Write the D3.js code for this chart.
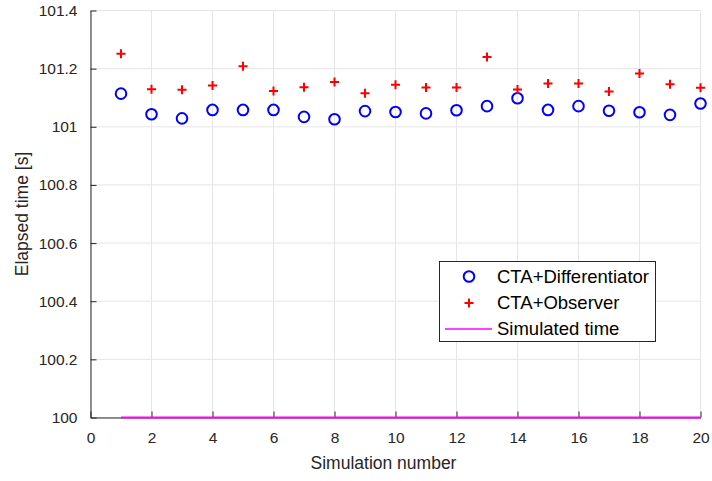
<!DOCTYPE html>
<html><head><meta charset="utf-8">
<script src="https://cdn.jsdelivr.net/npm/d3@7"></script>
<style>body{margin:0;background:#fff}svg{display:block;font-family:"Liberation Sans",Arial,sans-serif}</style>
</head><body><svg id="c" width="712" height="481"></svg>
<script>
const simNumbers = d3.range(1, 21);
const differentiator = [101.114,101.043,101.029,101.058,101.058,101.058,101.034,101.026,101.054,101.051,101.046,101.057,101.071,101.098,101.058,101.071,101.055,101.050,101.041,101.080];
const observer = [101.251,101.129,101.127,101.142,101.208,101.123,101.136,101.154,101.115,101.145,101.135,101.135,101.240,101.128,101.149,101.149,101.121,101.183,101.146,101.134];
const simulated = simNumbers.map(() => 100);
const xTicks = d3.range(0, 21, 2);
const yTicks = [100,100.2,100.4,100.6,100.8,101,101.2,101.4];
const legendLabels = ["CTA+Differentiator","CTA+Observer","Simulated time"];

const svg = d3.select("#c");
const L = 90.5, R = 700.5, T = 10.5, B = 417.5;
const x = d3.scaleLinear().domain([0,20]).range([L,R]);
const y = d3.scaleLinear().domain([100,101.4]).range([B,T]);

// grid
const g = svg.append("g");
g.selectAll(".gx").data(xTicks).join("line")
  .attr("x1",d=>x(d)).attr("x2",d=>x(d)).attr("y1",T).attr("y2",B)
  .attr("stroke","#e6e6e6").attr("stroke-width",1);
g.selectAll(".gy").data(yTicks).join("line")
  .attr("x1",L).attr("x2",R).attr("y1",d=>y(d)).attr("y2",d=>y(d))
  .attr("stroke","#e6e6e6").attr("stroke-width",1);

// axes
const xAxis = d3.axisBottom(x).tickValues(xTicks).tickSizeInner(-6).tickSizeOuter(0).tickPadding(14).tickFormat(d3.format("d"));
const yAxis = d3.axisLeft(y).tickValues(yTicks).tickSizeInner(-6).tickSizeOuter(0).tickPadding(13).tickFormat(d=>+d.toFixed(1)+"");
const gx = svg.append("g").attr("transform",`translate(0,${B})`).call(xAxis);
const gy = svg.append("g").attr("transform",`translate(${L},0)`).call(yAxis);
[gx,gy].forEach(a=>{
  a.select(".domain").attr("stroke","#262626").attr("stroke-width",1);
  a.selectAll(".tick line").attr("stroke","#262626");
  a.selectAll("text").attr("fill","#262626").style("font-size","15.5px").style("font-family","'Liberation Sans',Arial,sans-serif");
});

// simulated line
svg.append("path").datum(simNumbers)
  .attr("d", d3.line().x(d=>x(d)).y((d,i)=>y(simulated[i])))
  .attr("fill","none").attr("stroke","#ff00ff").attr("stroke-width",2);

// differentiator circles
svg.selectAll(".dc").data(differentiator).join("circle")
  .attr("cx",(d,i)=>x(simNumbers[i])).attr("cy",d=>y(d)).attr("r",5.3)
  .attr("fill","none").attr("stroke","#0000ff").attr("stroke-width",2);

// observer plus
const plus = (cx,cy,s)=>`M${cx-s},${cy}H${cx+s}M${cx},${cy-s}V${cy+s}`;
svg.selectAll(".op").data(observer).join("path")
  .attr("d",(d,i)=>plus(x(simNumbers[i]),y(d),4.5))
  .attr("stroke","#ff0000").attr("stroke-width",2).attr("fill","none");

// labels
svg.append("text").attr("x",(L+R)/2 - 12).attr("y",469).attr("text-anchor","middle")
  .attr("fill","#262626").style("font-size","17.5px").text("Simulation number");
svg.append("text").attr("transform",`translate(28,${(T+B)/2}) rotate(-90)`).attr("text-anchor","middle")
  .attr("fill","#262626").style("font-size","17.5px").text("Elapsed time [s]");

// legend
const lg = svg.append("g");
lg.append("rect").attr("x",439.5).attr("y",261.5).attr("width",216).attr("height",80)
  .attr("fill","#fff").attr("stroke","#262626").attr("stroke-width",1);
const rowsY = [276.5,303,329];
lg.append("circle").attr("cx",469).attr("cy",rowsY[0]).attr("r",5.3).attr("fill","none").attr("stroke","#0000ff").attr("stroke-width",2);
lg.append("path").attr("d",plus(469,rowsY[1],4.5)).attr("stroke","#ff0000").attr("stroke-width",2);
lg.append("line").attr("x1",445).attr("x2",492).attr("y1",rowsY[2]).attr("y2",rowsY[2]).attr("stroke","#ff00ff").attr("stroke-width",1.5);
lg.selectAll(".lt").data(legendLabels).join("text")
  .attr("x",497).attr("y",(d,i)=>rowsY[i]).attr("dy","0.35em")
  .attr("fill","#000").style("font-size","18.5px").text(d=>d);
</script></body></html>
